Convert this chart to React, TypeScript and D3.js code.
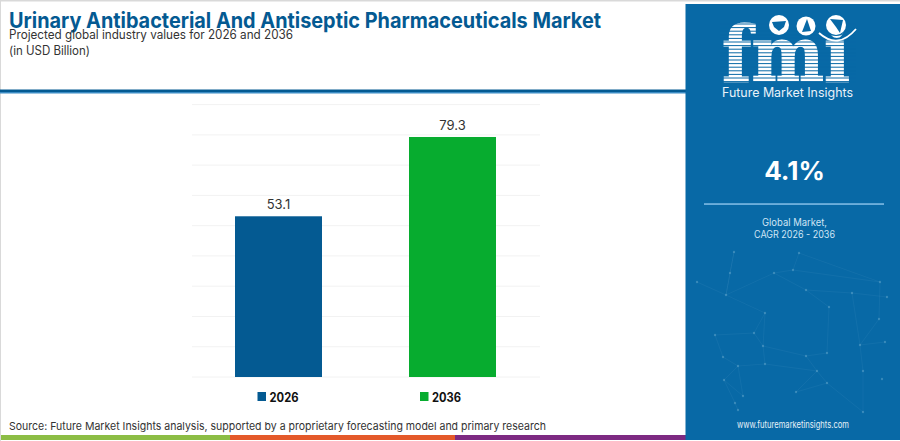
import * as d3 from 'd3';
import * as React from 'react';

const years = ['2026', '2036'];
const marketValues = [53.1, 79.3];
const barColors = ['#045a92', '#07ac2f'];
const gridTicks = [0, 10, 20, 30, 40, 50, 60, 70, 80, 90];

const titleText = 'Urinary Antibacterial And Antiseptic Pharmaceuticals Market';
const subtitleText = 'Projected global industry values for 2026 and 2036';
const unitText = '(in USD Billion)';
const sourceText = 'Source: Future Market Insights analysis, supported by a proprietary forecasting model and primary research';

const FONT = 'Inter, "Noto Sans", sans-serif';
const PANEL = '#0869a6';

// faint network decoration in the side panel
const netNodes: [number, number][] = [
  [734, 252], [799, 253], [730, 273], [697, 282], [726, 295], [774, 273], [793, 270], [880, 282],
  [806, 290], [852, 293], [887, 297], [765, 313], [829, 307], [879, 319], [715, 335], [754, 333],
  [763, 346], [860, 345], [885, 342], [723, 357], [806, 356], [827, 353], [738, 366], [765, 364],
  [817, 371], [863, 371], [724, 380], [827, 383], [796, 392], [743, 396], [882, 379], [735, 403],
  [738, 410], [863, 412],
];
const netLinks: [number, number][] = [
  [0, 2], [2, 4], [3, 4], [4, 5], [5, 6], [6, 1], [1, 7], [6, 7], [8, 9], [9, 10], [5, 8], [4, 11],
  [11, 15], [15, 14], [14, 19], [19, 22], [22, 23], [15, 16], [16, 20], [20, 21], [11, 16], [23, 24],
  [24, 27], [27, 28], [28, 24], [22, 26], [26, 29], [29, 22], [26, 31], [31, 32], [8, 12], [12, 21],
  [9, 17], [17, 25], [25, 33], [13, 17], [17, 18], [7, 13], [27, 33], [16, 23], [20, 24], [0, 4],
];

const stripes = d3.range(24, 82, 3.6);

export default function App() {
  const y = d3.scaleLinear().domain([0, 90]).range([377, 104.6]);
  const x = d3.scaleBand<string>().domain(years).range([191.5, 539.5]).paddingInner(0.5).paddingOuter(0.25);
  const legendX = d3.scalePoint<string>().domain(years).range([257.5, 420]);

  return (
    <svg
      width={900}
      height={441}
      viewBox="0 0 900 441"
      style={{ position: 'absolute', left: 0, top: 0, background: '#fff', fontFamily: FONT }}
    >
      <rect x={0} y={0} width={900} height={1.5} fill="#d9d9d9" />
      <rect x={0} y={0} width={1} height={441} fill="#d9d9d9" />

      <text x={9} y={28} fontSize={21.3} fontWeight={700} fill="#045a92" textLength={592} lengthAdjust="spacingAndGlyphs">{titleText}</text>
      <text x={9} y={39} fontSize={12.5} fill="#333" textLength={284} lengthAdjust="spacingAndGlyphs">{subtitleText}</text>
      <text x={9} y={55} fontSize={12.5} fill="#333" textLength={81} lengthAdjust="spacingAndGlyphs">{unitText}</text>

      <rect x={0} y={89.5} width={686} height={2.5} fill="#045a92" />
      <rect x={0} y={92} width={686} height={1.5} fill="#3b8cc4" />

      {gridTicks.map(t => (
        <line key={t} x1={192} x2={540} y1={y(t)} y2={y(t)} stroke="#f2f2f2" strokeWidth={1} />
      ))}

      {years.map((yr, i) => (
        <g key={yr}>
          <rect x={x(yr)} y={y(marketValues[i])} width={x.bandwidth()} height={y(0) - y(marketValues[i])} fill={barColors[i]} />
          <text x={x(yr)! + x.bandwidth() / 2} y={y(marketValues[i]) - 7} textAnchor="middle" fontSize={13} fill="#333">
            {marketValues[i].toFixed(1)}
          </text>
        </g>
      ))}

      {years.map((yr, i) => (
        <g key={yr}>
          <rect x={legendX(yr)} y={392} width={8.5} height={9} fill={barColors[i]} />
          <text x={legendX(yr)! + 12} y={401.5} fontSize={12.5} fontWeight={700} fill="#111" textLength={29} lengthAdjust="spacingAndGlyphs">{yr}</text>
        </g>
      ))}

      <text x={9} y={430} fontSize={11} fill="#333" textLength={537} lengthAdjust="spacingAndGlyphs">{sourceText}</text>

      <rect x={1} y={435} width={229} height={5} fill="#8cbd45" />
      <rect x={230} y={435} width={225} height={5} fill="#e4592a" />
      <rect x={455} y={435} width={232} height={5} fill="#7d2a82" />

      <rect x={685.5} y={4} width={214.5} height={436} fill={PANEL} />

      <g stroke="#5fa3cc" strokeOpacity={0.2} strokeWidth={0.6}>
        {netLinks.map(([a, b], i) => (
          <line key={i} x1={netNodes[a][0]} y1={netNodes[a][1]} x2={netNodes[b][0]} y2={netNodes[b][1]} />
        ))}
      </g>
      <g fill="#7db6d8" fillOpacity={0.4}>
        {netNodes.map(([cx, cy], i) => <circle key={i} cx={cx} cy={cy} r={1.2} />)}
      </g>

      {/* fmi logo */}
      <text x={722} y={81} fontFamily='"DejaVu Serif", serif' fontWeight={700} fontSize={76} fill="#fff" stroke="#fff" strokeWidth={1.2} textLength={128} lengthAdjust="spacingAndGlyphs">fmi</text>
      <g stroke={PANEL} strokeWidth={1}>
        {stripes.map(s => <line key={s} x1={720} x2={856} y1={s} y2={s} />)}
      </g>
      <circle cx={779} cy={25} r={10} fill="#fff" />
      <circle cx={806} cy={26} r={9.5} fill="#fff" />
      <circle cx={836} cy={25} r={11} fill={PANEL} />
      <circle cx={836} cy={25} r={10} fill="#fff" />
      <path d="M772 22 L786 21 L784 27 L779 31 L774 27 Z" fill={PANEL} />
      <path d="M802 32 L807 19 L811 31 Z" fill={PANEL} />
      <path d="M830 19 L843 20 L840 33 L836 27 Z" fill={PANEL} />
      <path d="M819 33 Q838 50 856 29" fill="none" stroke="#fff" strokeWidth={1.8} />
      <text x={722} y={96.5} fontSize={12.5} fill="#e8f2f9" textLength={131} lengthAdjust="spacingAndGlyphs">Future Market Insights</text>

      <text x={794.5} y={180} textAnchor="middle" fontSize={26} fontWeight={700} fill="#fff">4.1%</text>
      <rect x={704} y={203.3} width={180} height={1.5} fill="#86c0e8" />
      <text x={794.5} y={226} textAnchor="middle" fontSize={10} fill="#cfe5f5" textLength={65} lengthAdjust="spacingAndGlyphs">Global Market,</text>
      <text x={794.5} y={238} textAnchor="middle" fontSize={10} fill="#cfe5f5" textLength={81} lengthAdjust="spacingAndGlyphs">CAGR 2026 - 2036</text>
      <text x={793} y={428} textAnchor="middle" fontSize={9.5} fill="#e6f1f8" textLength={112} lengthAdjust="spacingAndGlyphs">www.futuremarketinsights.com</text>
    </svg>
  );
}
